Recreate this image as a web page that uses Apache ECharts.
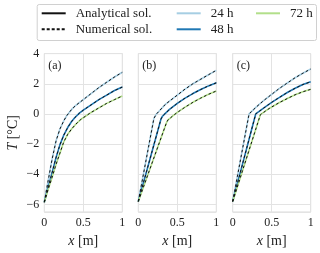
<!DOCTYPE html>
<html><head><meta charset="utf-8">
<script src="https://cdn.jsdelivr.net/npm/echarts@6/dist/echarts.min.js"></script>
<style>html,body{margin:0;padding:0;background:#fff}#c{width:320px;height:253px}</style>
</head><body><div id="c"></div>
<script>
// ---- data ----
const panelLabels = ['(a)', '(b)', '(c)'];
const timeLabels = ['24 h', '48 h', '72 h'];
const xTicks = [0, 0.5, 1];
const yTicks = [-6, -4, -2, 0, 2, 4];

const a24 = [[0,-5.85],[0.05,-4.4],[0.1,-3.0],[0.15,-1.8],[0.2,-1.0],[0.25,-0.45],[0.29,-0.1],[0.35,0.3],[0.4,0.55],[0.5,0.95],[0.6,1.35],[0.7,1.75],[0.8,2.1],[0.9,2.45],[1,2.76]];
const a48 = [[0,-5.85],[0.05,-4.85],[0.1,-3.9],[0.15,-2.9],[0.2,-2.05],[0.25,-1.4],[0.3,-0.9],[0.35,-0.5],[0.39,-0.25],[0.45,0.05],[0.5,0.25],[0.6,0.6],[0.7,0.95],[0.8,1.25],[0.9,1.55],[1,1.78]];
const a72 = [[0,-5.85],[0.05,-5.0],[0.1,-4.2],[0.15,-3.35],[0.2,-2.6],[0.25,-1.85],[0.3,-1.35],[0.35,-1.0],[0.4,-0.7],[0.46,-0.4],[0.5,-0.25],[0.6,0.1],[0.7,0.4],[0.8,0.7],[0.9,0.95],[1,1.19]];

const b24 = [[0,-5.8],[0.2,-0.3],[0.23,-0.02],[0.26,0.15],[0.35,0.65],[0.5,1.25],[0.6,1.65],[0.7,2.0],[0.8,2.3],[0.9,2.6],[1,2.89]];
const b48 = [[0,-5.8],[0.29,-0.35],[0.31,-0.15],[0.34,0.0],[0.4,0.3],[0.5,0.7],[0.6,1.05],[0.7,1.35],[0.8,1.62],[0.9,1.86],[1,2.06]];
const b72 = [[0,-5.8],[0.36,-0.6],[0.38,-0.4],[0.41,-0.27],[0.45,-0.1],[0.5,0.1],[0.6,0.45],[0.7,0.77],[0.8,1.05],[0.9,1.3],[1,1.52]];

const c24 = [[0,-5.8],[0.21,0.0],[0.3,0.45],[0.4,0.9],[0.5,1.3],[0.6,1.7],[0.7,2.05],[0.8,2.4],[0.9,2.7],[1,2.98]];
const c48 = [[0,-5.8],[0.295,0.0],[0.4,0.4],[0.5,0.77],[0.6,1.1],[0.7,1.42],[0.8,1.7],[0.9,1.95],[1,2.13]];
const c72 = [[0,-5.8],[0.355,-0.05],[0.45,0.3],[0.5,0.46],[0.6,0.76],[0.7,1.02],[0.8,1.27],[0.9,1.47],[1,1.63]];

const panels = [[a24, a48, a72], [b24, b48, b72], [c24, c48, c72]];
// ---- styling ----
const colors = ['#a6cee3', '#1f78b4', '#b2df8a'];
const serif = 'Liberation Serif';
const gridColor = '#e3e3e3';
const lefts = [44.3, 138.3, 232.7];

const grids = [], xAxes = [], yAxes = [], series = [], graphics = [];
lefts.forEach((l, i) => {
  grids.push({left: l, top: 53.6, width: 78, height: 161.2, show: true, borderColor: '#dadada', borderWidth: 1, backgroundColor: '#fff'});
  xAxes.push({type: 'value', gridIndex: i, min: 0, max: 1, interval: 0.5,
    axisLine: {show: false}, axisTick: {show: false},
    splitLine: {lineStyle: {color: gridColor, width: 1}},
    axisLabel: {fontFamily: serif, fontSize: 12, color: '#222', margin: 5,
      formatter: v => String(v)},
    name: '{i|x} [m]', nameLocation: 'middle', nameGap: 22,
    nameTextStyle: {fontFamily: serif, fontSize: 14, color: '#222', rich: {i: {fontStyle: 'italic', fontFamily: serif, fontSize: 14, color: '#222'}}}
  });
  yAxes.push({type: 'value', gridIndex: i, min: -6.5, max: 4, splitNumber: 5,
    axisLine: {show: false}, axisTick: {show: false},
    splitLine: {lineStyle: {color: gridColor, width: 1}},
    axisLabel: {show: i === 0, showMinLabel: false, fontFamily: serif, fontSize: 12, color: '#222', margin: 5,
      formatter: v => (yTicks.indexOf(v) >= 0 ? String(v).replace('-', '\u2212') : '')},
    name: i === 0 ? '{i|T} [°C]' : '', nameLocation: 'middle', nameGap: 24, nameRotate: 90,
    nameTextStyle: {fontFamily: serif, fontSize: 14, color: '#222', rich: {i: {fontStyle: 'italic', fontFamily: serif, fontSize: 14, color: '#222'}}}
  });
  panels[i].forEach((d, k) => {
    series.push({type: 'line', name: 'ana' + i + k, xAxisIndex: i, yAxisIndex: i, data: d,
      symbol: 'none', lineStyle: {color: colors[k], width: 1.6}, z: 2, silent: true});
  });
  panels[i].forEach((d, k) => {
    series.push({type: 'line', name: 'num' + i + k, xAxisIndex: i, yAxisIndex: i, data: d,
      symbol: 'none', lineStyle: {color: '#111', width: 1, type: [2.5, 2.5]}, z: 3, silent: true});
  });
  graphics.push({type: 'text', left: l + 4, top: 60, style: {text: panelLabels[i], font: '12px "' + serif + '"', fill: '#222'}});
});

// legend-only series
const legendNames = ['Analytical sol.', 'Numerical sol.'].concat(timeLabels);
const legendStyles = [
  {color: '#111', width: 1.3, type: 'solid'},
  {color: '#111', width: 1.2, type: [3, 2]},
  {color: colors[0], width: 1.6, type: 'solid'},
  {color: colors[1], width: 1.6, type: 'solid'},
  {color: colors[2], width: 1.6, type: 'solid'}
];
legendNames.forEach((n, k) => {
  series.push({type: 'line', name: n, xAxisIndex: 0, yAxisIndex: 0, data: [], symbol: 'none',
    itemStyle: {color: legendStyles[k].color, opacity: 0}, lineStyle: legendStyles[k]});
});
const legCommon = {orient: 'vertical', top: 6.8, padding: 0, itemWidth: 24, itemHeight: 10, itemGap: 3,
  selectedMode: false, itemStyle: {opacity: 0},
  textStyle: {fontFamily: serif, fontSize: 13, color: '#222', padding: [0, 0, 0, 5]}};
graphics.push({type: 'rect', left: 36.7, top: 4, shape: {width: 279.3, height: 36, r: 2},
  style: {fill: '#fff', stroke: '#d0d0d0', lineWidth: 1}, z: -1});

const chart = echarts.init(document.getElementById('c'), null, {renderer: 'canvas'});
chart.setOption({
  animation: false,
  backgroundColor: '#fff',
  grid: grids, xAxis: xAxes, yAxis: yAxes, series: series,
  legend: [
    Object.assign({}, legCommon, {left: 40.7, data: legendNames.slice(0, 2)}),
    Object.assign({}, legCommon, {left: 175.7, data: legendNames.slice(2, 4)}),
    Object.assign({}, legCommon, {left: 255, data: legendNames.slice(4, 5)})
  ],
  graphic: graphics
});
</script></body></html>
